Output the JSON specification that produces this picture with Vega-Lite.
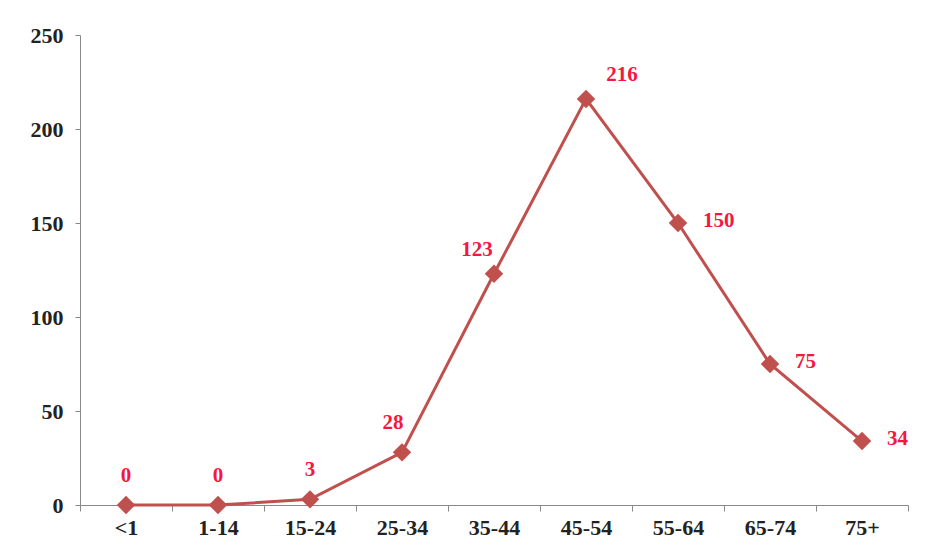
{
  "$schema": "https://vega.github.io/schema/vega-lite/v6.json",
  "width": 828,
  "height": 470,
  "autosize": {"type": "none"},
  "padding": {"left": 80, "top": 35, "right": 17, "bottom": 52},
  "background": "white",
  "data": {"values": [
    {"age": "<1", "cases": 0},
    {"age": "1-14", "cases": 0},
    {"age": "15-24", "cases": 3},
    {"age": "25-34", "cases": 28},
    {"age": "35-44", "cases": 123},
    {"age": "45-54", "cases": 216},
    {"age": "55-64", "cases": 150},
    {"age": "65-74", "cases": 75},
    {"age": "75+", "cases": 34}
  ]},
  "encoding": {
    "x": {
      "field": "age", "type": "ordinal", "sort": null,
      "scale": {"paddingInner": 0, "paddingOuter": 0},
      "axis": {
        "title": null, "labelAngle": 0, "labelFont": "Liberation Serif", "labelFontSize": 22,
        "labelFontWeight": "bold", "labelColor": "#222", "labelPadding": 6,
        "domainColor": "#888", "tickColor": "#888", "tickSize": 6, "tickBand": "extent",
        "grid": false
      }
    },
    "y": {
      "field": "cases", "type": "quantitative",
      "scale": {"domain": [0, 250]},
      "axis": {
        "title": null, "values": [0, 50, 100, 150, 200, 250], "labelFont": "Liberation Serif",
        "labelFontSize": 22, "labelFontWeight": "bold", "labelColor": "#222", "labelPadding": 12,
        "domainColor": "#888", "tickColor": "#888", "tickSize": 5, "grid": false
      }
    },
    "text": {"field": "cases", "type": "quantitative"}
  },
  "layer": [
    {"mark": {"type": "line", "color": "#c0504d", "strokeWidth": 3}},
    {"mark": {"type": "point", "shape": "diamond", "filled": true, "size": 340, "color": "#c0504d", "opacity": 1}},
    {
      "transform": [{"filter": {"field": "age", "oneOf": ["<1", "1-14", "15-24"]}}],
      "mark": {"type": "text", "font": "Liberation Serif", "fontSize": 21, "fontWeight": "bold", "color": "#f5173f", "dy": -29}
    },
    {
      "transform": [{"filter": {"field": "age", "equal": "25-34"}}],
      "mark": {"type": "text", "font": "Liberation Serif", "fontSize": 21, "fontWeight": "bold", "color": "#f5173f", "dy": -29, "dx": -9}
    },
    {
      "transform": [{"filter": {"field": "age", "equal": "35-44"}}],
      "mark": {"type": "text", "font": "Liberation Serif", "fontSize": 21, "fontWeight": "bold", "color": "#f5173f", "dy": -24, "dx": -17}
    },
    {
      "transform": [{"filter": {"field": "age", "equal": "45-54"}}],
      "mark": {"type": "text", "font": "Liberation Serif", "fontSize": 21, "fontWeight": "bold", "color": "#f5173f", "dy": -24, "dx": 36}
    },
    {
      "transform": [{"filter": {"field": "age", "oneOf": ["55-64", "65-74", "75+"]}}],
      "mark": {"type": "text", "font": "Liberation Serif", "fontSize": 21, "fontWeight": "bold", "color": "#f5173f", "align": "left", "dx": 25, "dy": -2}
    }
  ],
  "config": {"view": {"stroke": null}}
}
